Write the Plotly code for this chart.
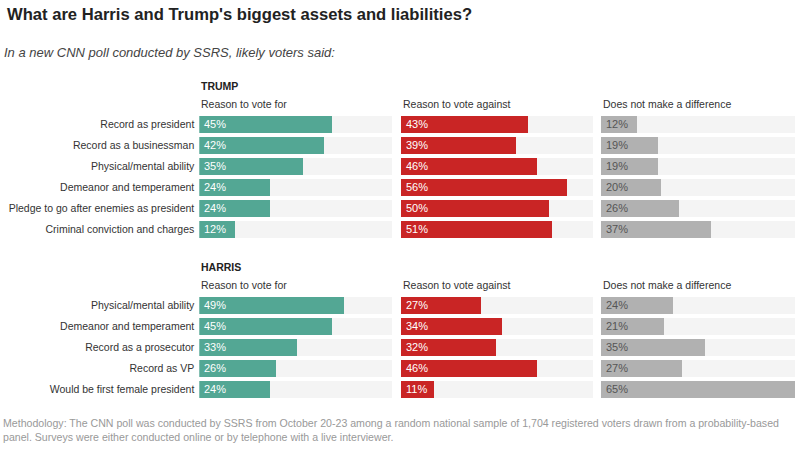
import plotly.graph_objects as go

W, H = 800, 461

trump_items = ["Record as president", "Record as a businessman", "Physical/mental ability",
               "Demeanor and temperament", "Pledge to go after enemies as president",
               "Criminal conviction and charges"]
trump_for = [45, 42, 35, 24, 24, 12]
trump_against = [43, 39, 46, 56, 50, 51]
trump_nodiff = [12, 19, 19, 20, 26, 37]

harris_items = ["Physical/mental ability", "Demeanor and temperament", "Record as a prosecutor",
                "Record as VP", "Would be first female president"]
harris_for = [49, 45, 33, 26, 24]
harris_against = [27, 34, 32, 46, 11]
harris_nodiff = [24, 21, 35, 27, 65]

column_titles = ["Reason to vote for", "Reason to vote against", "Does not make a difference"]
AXIS_MAX = 65

FONT = "Liberation Sans"
GREEN = "#53a794"
RED = "#c92525"
GRAY = "#b1b1b1"
TRACK = "#f4f4f4"
colors = [GREEN, RED, GRAY]
text_colors = ["white", "white", "#555555"]


def px_x(p):
    return p / W


def px_y(p):
    return 1 - p / H


col_dom = [(199.3, 392), (400.7, 593), (601, 795)]
ROW = 21.0
blocks = [
    dict(items=trump_items, series=[trump_for, trump_against, trump_nodiff],
         first_center=124.0, name="TRUMP", name_y=86, head_y=104),
    dict(items=harris_items, series=[harris_for, harris_against, harris_nodiff],
         first_center=305.0, name="HARRIS", name_y=267, head_y=285),
]

fig = go.Figure()
layout = {}
annotations = []
ax_i = 0
for b in blocks:
    n = len(b["items"])
    top = b["first_center"] - ROW / 2
    bottom = b["first_center"] + ROW * (n - 1) + ROW / 2
    idx = list(range(n))
    for c in range(3):
        ax_i += 1
        xa = "x" if ax_i == 1 else f"x{ax_i}"
        ya = "y" if ax_i == 1 else f"y{ax_i}"
        vals = b["series"][c]
        fig.add_trace(go.Bar(x=[AXIS_MAX] * n, y=idx, orientation="h", width=0.81,
                             marker=dict(color=TRACK, line=dict(width=0)),
                             xaxis=xa, yaxis=ya, hoverinfo="skip", showlegend=False))
        fig.add_trace(go.Bar(x=vals, y=idx, orientation="h", width=0.81,
                             marker=dict(color=colors[c], line=dict(width=0)),
                             xaxis=xa, yaxis=ya, showlegend=False))
        for i, v in enumerate(vals):
            annotations.append(dict(x=0, y=i, xref=xa, yref=ya, text=f"{v}%",
                                    showarrow=False, xanchor="left", xshift=3,
                                    font=dict(family=FONT, size=11, color=text_colors[c])))
        kx = "xaxis" if ax_i == 1 else f"xaxis{ax_i}"
        ky = "yaxis" if ax_i == 1 else f"yaxis{ax_i}"
        layout[kx] = dict(domain=[px_x(col_dom[c][0]), px_x(col_dom[c][1])],
                          range=[0, AXIS_MAX], visible=False, fixedrange=True,
                          anchor=ya)
        layout[ky] = dict(domain=[px_y(bottom), px_y(top)], range=[n - 0.5, -0.5],
                          tickvals=idx, ticktext=b["items"] if c == 0 else None,
                          showticklabels=(c == 0), showgrid=False, zeroline=False,
                          showline=False, ticks="", ticklabelstandoff=4,
                          tickfont=dict(family=FONT, size=10.5, color="#333333"),
                          anchor=xa, fixedrange=True)
        annotations.append(dict(x=px_x(col_dom[c][0]), y=px_y(b["head_y"]), xref="paper",
                                yref="paper", text=column_titles[c], showarrow=False,
                                xanchor="left", yanchor="middle",
                                font=dict(family=FONT, size=10.5, color="#333333")))
    annotations.append(dict(x=px_x(199.3), y=px_y(b["name_y"]), xref="paper", yref="paper",
                            text="<b>" + b["name"] + "</b>", showarrow=False,
                            xanchor="left", yanchor="middle",
                            font=dict(family=FONT, size=10.5, color="#222222")))

annotations.append(dict(x=px_x(5), y=px_y(14), xref="paper", yref="paper",
                        text="<b>What are Harris and Trump's biggest assets and liabilities?</b>",
                        showarrow=False, xanchor="left", yanchor="middle",
                        font=dict(family=FONT, size=16.6, color="#222222")))
annotations.append(dict(x=px_x(2), y=px_y(52), xref="paper", yref="paper",
                        text="<i>In a new CNN poll conducted by SSRS, likely voters said:</i>",
                        showarrow=False, xanchor="left", yanchor="middle",
                        font=dict(family=FONT, size=13, color="#444444")))
annotations.append(dict(x=px_x(1), y=px_y(430), xref="paper", yref="paper",
                        text=("Methodology: The CNN poll was conducted by SSRS from October 20-23 among a random national sample of 1,704 registered voters drawn from a probability-based"
                              "<br>panel. Surveys were either conducted online or by telephone with a live interviewer."),
                        showarrow=False, xanchor="left", yanchor="middle", align="left",
                        font=dict(family=FONT, size=10.6, color="#999999")))

fig.update_layout(width=W, height=H, margin=dict(l=0, r=0, t=0, b=0),
                  paper_bgcolor="white", plot_bgcolor="white", barmode="overlay",
                  bargap=0, annotations=annotations, showlegend=False, **layout)

fig.write_html("out.html", config={"displayModeBar": False},
               post_script="document.body.style.margin='0';document.body.style.overflow='hidden';")
